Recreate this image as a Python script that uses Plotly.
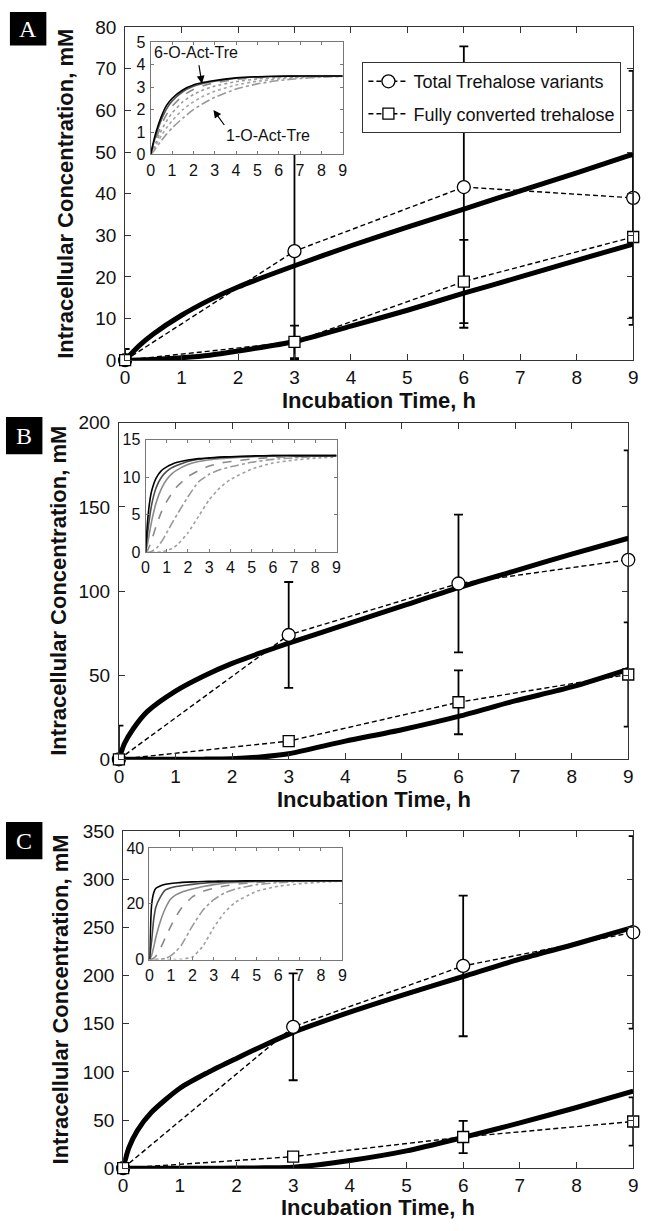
import plotly.graph_objects as go

W, H = 650, 1231

# ---------------- data ----------------
t_data = [0, 3, 6, 9]

# Panel A
A_total = [0, 26.2, 41.6, 39.0]
A_total_err = [2.7, 26.0, 33.8, 30.5]
A_full = [0, 4.4, 18.9, 29.6]
A_full_err = [0, 3.9, 10.0, 19.4]
A_model_t = [0, 0.25, 0.5, 1, 1.5, 2, 3, 4, 5, 6, 7, 8, 9]
A_model_total = [0, 3.5, 6.3, 10.8, 14.5, 17.6, 22.7, 27.5, 32.0, 36.3, 40.7, 45.0, 49.5]
A_model_full = [0, 0.05, 0.2, 0.6, 1.2, 2.2, 4.5, 8.2, 12.0, 16.1, 20.0, 24.0, 27.9]

# Panel B
B_total = [0, 73.9, 104.5, 118.6]
B_total_err = [20, 31.5, 41, 65]
B_full = [0, 10.8, 33.9, 50.4]
B_full_err = [0, 0, 19, 31]
B_model_t = [0, 0.1, 0.25, 0.5, 1, 1.5, 2, 2.5, 3, 4, 5, 6, 7, 8, 9]
B_model_total = [0, 9.5, 18, 28.3, 40.5, 49.5, 57, 63.2, 69, 80, 91, 102, 112, 122, 131.4]
B_model_full = [0, 0, 0, 0, 0, 0.1, 0.4, 1.4, 3.3, 10.8, 17.6, 25.5, 34.7, 43, 53.5]

# Panel C
C_total = [0, 146.8, 210, 244.8]
C_total_err = [0, 55.5, 73, 100]
C_full = [0, 12, 32.4, 48.5]
C_full_err = [0, 0, 16.7, 25]
C_model_t = [0, 0.1, 0.25, 0.5, 1, 1.5, 2, 2.5, 3, 4, 5, 6, 7, 8, 9]
C_model_total = [0, 21, 39, 58, 83, 99.5, 114, 128, 141, 162, 181, 199, 217, 233, 250]
C_model_full = [0, 0, 0, 0, 0, 0, 0.1, 0.4, 1.0, 8, 18, 32, 47, 63, 80]

# Insets (individual positional isomers)
inA_t = [0, 0.1, 0.25, 0.5, 0.75, 1, 1.5, 2, 2.5, 3, 4, 5, 6, 7, 8, 9]
inA_curves = [
    [0, 0.45, 1.0, 1.7, 2.2, 2.5, 2.88, 3.1, 3.22, 3.3, 3.42, 3.47, 3.49, 3.5, 3.5, 3.5],
    [0, 0.38, 0.88, 1.55, 2.05, 2.38, 2.8, 3.04, 3.18, 3.27, 3.4, 3.46, 3.49, 3.5, 3.5, 3.5],
    [0, 0.3, 0.72, 1.32, 1.8, 2.15, 2.62, 2.9, 3.08, 3.2, 3.35, 3.43, 3.47, 3.49, 3.5, 3.5],
    [0, 0.22, 0.55, 1.08, 1.5, 1.85, 2.35, 2.68, 2.9, 3.05, 3.25, 3.37, 3.43, 3.46, 3.48, 3.5],
    [0, 0.15, 0.42, 0.85, 1.2, 1.5, 2.0, 2.35, 2.62, 2.82, 3.1, 3.27, 3.37, 3.43, 3.47, 3.49],
    [0, 0.1, 0.3, 0.62, 0.92, 1.18, 1.62, 2.0, 2.3, 2.55, 2.92, 3.15, 3.3, 3.39, 3.45, 3.48],
]
inBC_t = [0, 0.1, 0.2, 0.3, 0.5, 0.75, 1, 1.25, 1.5, 2, 2.5, 3, 3.5, 4, 5, 6, 7, 8, 9]
inB_curves = [
    [0, 4.2, 6.8, 8.3, 9.9, 10.9, 11.4, 11.75, 12.0, 12.3, 12.5, 12.6, 12.7, 12.75, 12.85, 12.9, 12.9, 12.9, 12.9],
    [0, 2.6, 4.8, 6.5, 8.6, 10.0, 10.8, 11.3, 11.6, 12.1, 12.4, 12.55, 12.65, 12.7, 12.8, 12.9, 12.9, 12.9, 12.9],
    [0, 1.2, 2.8, 4.3, 6.6, 8.5, 9.7, 10.5, 11.0, 11.7, 12.1, 12.35, 12.5, 12.6, 12.75, 12.85, 12.9, 12.9, 12.9],
    [0, 0.3, 0.9, 1.7, 3.5, 5.4, 6.8, 7.9, 8.8, 10.1, 10.9, 11.5, 11.9, 12.1, 12.45, 12.65, 12.75, 12.85, 12.9],
    [0, 0, 0.05, 0.15, 0.5, 1.4, 2.6, 3.9, 5.1, 7.4, 9.4, 10.4, 11.0, 11.4, 12.0, 12.4, 12.6, 12.75, 12.85],
    [0, 0, 0, 0, 0, 0.05, 0.2, 0.5, 1.0, 2.6, 4.8, 7.0, 8.6, 9.7, 11.1, 11.9, 12.3, 12.55, 12.7],
]
inC_curves = [
    [0, 19.5, 24.0, 25.6, 26.4, 27.0, 27.3, 27.5, 27.7, 27.9, 28.0, 28.1, 28.2, 28.2, 28.3, 28.3, 28.3, 28.3, 28.3],
    [0, 6.5, 14.5, 18.8, 22.3, 25.0, 25.8, 26.2, 26.5, 27.0, 27.4, 27.7, 27.9, 28.0, 28.2, 28.3, 28.3, 28.3, 28.3],
    [0, 1.5, 4.5, 8.0, 13.5, 18.5, 21.8, 23.3, 24.2, 25.3, 26.2, 26.9, 27.4, 27.7, 28.0, 28.2, 28.3, 28.3, 28.3],
    [0, 0.1, 0.5, 1.2, 3.8, 8.0, 12.0, 15.6, 18.5, 22.5, 24.5, 25.6, 26.4, 27.0, 27.7, 28.0, 28.2, 28.3, 28.3],
    [0, 0, 0, 0, 0.1, 0.4, 1.4, 3.0, 5.3, 12.0, 17.8, 21.5, 23.9, 25.3, 26.9, 27.6, 28.0, 28.2, 28.3],
    [0, 0, 0, 0, 0, 0, 0, 0, 0.1, 0.9, 4.9, 11.5, 16.9, 20.5, 24.5, 26.3, 27.2, 27.8, 28.1],
]
inset_styles = [
    dict(color="#000000", dash="solid"),
    dict(color="#4a4a4a", dash="solid"),
    dict(color="#8a8a8a", dash="solid"),
    dict(color="#8a8a8a", dash="dash"),
    dict(color="#9a9a9a", dash="dashdot"),
    dict(color="#a0a0a0", dash="dot"),
]
inA_styles = [
    dict(color="#000000", dash="solid"),
    dict(color="#555555", dash="solid"),
    dict(color="#8a8a8a", dash="dash"),
    dict(color="#9a9a9a", dash="dot"),
    dict(color="#a5a5a5", dash="dot"),
    dict(color="#9a9a9a", dash="dashdot"),
]

x_ticks = list(range(0, 10))
A_yticks = list(range(0, 81, 10))
B_yticks = list(range(0, 201, 50))
C_yticks = list(range(0, 351, 50))
inA_yticks = [0, 1, 2, 3, 4, 5]
inB_yticks = [0, 5, 10, 15]
inC_yticks = [0, 20, 40]

legend_names = ["Total Trehalose variants", "Fully converted trehalose"]
x_title = "Incubation Time, h"
y_title = "Intracellular Concentration, mM"

# ---------------- layout helpers ----------------
def px(x):
    return x / W

def py(y):
    return 1 - y / H

FONT = "Liberation Sans, Arial, Helvetica, sans-serif"

panels = [
    dict(mx=(122, 638), my=(17.5, 356.3), ix=(148, 343), iy=(33, 147),
         yt=A_yticks, iyt=inA_yticks, iymax=5, letter="A", box=(5, 42, 2, 36),
         ytx=62, xty=397),
    dict(mx=(115.7, 633), my=(420, 762.3), ix=(142.7, 336.7), iy=(437.3, 551.7),
         yt=B_yticks, iyt=inB_yticks, iymax=15, letter="B", box=(1, 38, 414, 452),
         ytx=53.5, xty=803),
    dict(mx=(120, 638), my=(835.3, 1178.3), ix=(146.7, 342.7), iy=(852.7, 966),
         yt=C_yticks, iyt=inC_yticks, iymax=40, letter="C", box=(1, 38, 826, 864),
         ytx=56.7, xty=1218),
]

fig = go.Figure()
layout = dict(
    width=W, height=H, margin=dict(l=0, r=0, t=0, b=0),
    paper_bgcolor="white", plot_bgcolor="white",
    font=dict(family=FONT, color="#111", size=19),
)
annotations = []
shapes = []

main_sets = [
    (A_model_t, A_model_total, A_model_full, A_total, A_total_err, A_full, A_full_err),
    (B_model_t, B_model_total, B_model_full, B_total, B_total_err, B_full, B_full_err),
    (C_model_t, C_model_total, C_model_full, C_total, C_total_err, C_full, C_full_err),
]
inset_sets = [(inA_t, inA_curves, inA_styles), (inBC_t, inB_curves, inset_styles), (inBC_t, inC_curves, inset_styles)]

for i, p in enumerate(panels):
    n = i + 1
    xa = "x" if n == 1 else f"x{n}"
    ya = "y" if n == 1 else f"y{n}"
    xkey = "xaxis" if n == 1 else f"xaxis{n}"
    ykey = "yaxis" if n == 1 else f"yaxis{n}"
    mt, mtot, mfull, dtot, dtot_e, dfull, dfull_e = main_sets[i]
    ymax = p["yt"][-1]

    layout[xkey] = dict(domain=[px(p["mx"][0]), px(p["mx"][1])], anchor=ya, range=[0, 9],
                        tickvals=x_ticks, ticks="inside", ticklen=6, tickcolor="#333",
                        showline=True, linecolor="#333", linewidth=1, mirror="ticks",
                        showgrid=False, zeroline=False, tickfont=dict(size=19, color="#111"),
                        ticklabelstandoff=0)
    layout[ykey] = dict(domain=[py(p["my"][1]), py(p["my"][0])], anchor=xa, range=[0, ymax],
                        tickvals=p["yt"], ticks="inside", ticklen=6, tickcolor="#333",
                        showline=True, linecolor="#333", linewidth=1, mirror="ticks",
                        showgrid=False, zeroline=False, tickfont=dict(size=19, color="#111"),
                        ticklabelstandoff=4)

    # model curves
    for yy in (mtot, mfull):
        fig.add_trace(go.Scatter(x=mt, y=yy, mode="lines", xaxis=xa, yaxis=ya,
                                 line=dict(color="black", width=5, shape="spline", smoothing=0.7),
                                 showlegend=False, hoverinfo="skip"))
    # data series
    for k, (name, yy, ee, sym, sz) in enumerate(((legend_names[0], dtot, dtot_e, "circle", 13),
                                                 (legend_names[1], dfull, dfull_e, "square", 11))):
        fig.add_trace(go.Scatter(
            x=t_data, y=yy, mode="lines+markers", xaxis=xa, yaxis=ya, name=name,
            legendgroup=f"g{k}",
            line=dict(color="black", width=1.4, dash="5px,3px"),
            marker=dict(symbol=sym, size=sz, color="white",
                        line=dict(color="black", width=1.3)),
            error_y=dict(type="data", array=ee, visible=True, color="black", thickness=1.8, width=4.5),
            showlegend=(i == 0), cliponaxis=False))

    # inset
    m = n + 3
    ixa, iya = f"x{m}", f"y{m}"
    it, icurves, istyles = inset_sets[i]
    layout[f"xaxis{m}"] = dict(domain=[px(p["ix"][0]), px(p["ix"][1])], anchor=iya, range=[0, 9],
                               tickvals=x_ticks, ticks="inside", ticklen=3, tickcolor="#777",
                               showline=True, linecolor="#777", linewidth=1, mirror="ticks",
                               showgrid=False, zeroline=False,
                               tickfont=dict(size=16, color="#111"), ticklabelstandoff=1)
    layout[f"yaxis{m}"] = dict(domain=[py(p["iy"][1]), py(p["iy"][0])], anchor=ixa,
                               range=[0, p["iymax"]], tickvals=p["iyt"], ticks="inside", ticklen=3,
                               tickcolor="#777", showline=True, linecolor="#777", linewidth=1,
                               mirror="ticks", showgrid=False, zeroline=False,
                               tickfont=dict(size=16, color="#111"), ticklabelstandoff=1)
    # white backdrop for the inset (covers the main plot behind it)
    fig.add_trace(go.Scatter(x=[0, 9, 9, 0, 0], y=[0, 0, p["iymax"], p["iymax"], 0],
                             mode="lines", fill="toself", fillcolor="white",
                             line=dict(width=0, color="white"), xaxis=ixa, yaxis=iya,
                             showlegend=False, hoverinfo="skip"))
    for cv, st in zip(reversed(icurves), reversed(istyles)):
        fig.add_trace(go.Scatter(x=it, y=cv, mode="lines", xaxis=ixa, yaxis=iya,
                                 line=dict(color=st["color"], dash=st["dash"], width=1.6,
                                           shape="spline", smoothing=0.5),
                                 showlegend=False, hoverinfo="skip"))

    # axis titles
    annotations.append(dict(text=f"<b>{y_title}</b>", x=px(p["ytx"]), y=py((p["my"][0] + p["my"][1]) / 2),
                            xref="paper", yref="paper", showarrow=False, textangle=-90,
                            xanchor="center", yanchor="middle", font=dict(size=22, family=FONT, color="#111")))
    annotations.append(dict(text=f"<b>{x_title}</b>", x=px((p["mx"][0] + p["mx"][1]) / 2), y=py(p["xty"]),
                            xref="paper", yref="paper", showarrow=False,
                            xanchor="center", yanchor="middle", font=dict(size=22, family=FONT, color="#111")))
    # panel letter box
    bx0, bx1, by0, by1 = p["box"]
    shapes.append(dict(type="rect", xref="paper", yref="paper", x0=px(bx0), x1=px(bx1),
                       y0=py(by1), y1=py(by0), fillcolor="black", line=dict(width=0), layer="above"))
    annotations.append(dict(text=p["letter"], x=px((bx0 + bx1) / 2), y=py((by0 + by1) / 2),
                            xref="paper", yref="paper", showarrow=False, xanchor="center", yanchor="middle",
                            font=dict(size=24, family="Liberation Serif, Times New Roman, serif", color="white")))

# inset A labels and arrows
annotations += [
    dict(text="6-O-Act-Tre", x=2.13, y=4.55, xref="x4", yref="y4", showarrow=False,
         font=dict(size=16, family=FONT, color="#111")),
    dict(text="", x=2.4, y=3.16, ax=2.25, ay=4.05, xref="x4", yref="y4", axref="x4", ayref="y4",
         showarrow=True, arrowhead=2, arrowsize=1.3, arrowwidth=1.2, arrowcolor="black"),
    dict(text="1-O-Act-Tre", x=5.5, y=0.83, xref="x4", yref="y4", showarrow=False,
         font=dict(size=16, family=FONT, color="#111")),
    dict(text="", x=2.94, y=1.99, ax=3.5, ay=1.25, xref="x4", yref="y4", axref="x4", ayref="y4",
         showarrow=True, arrowhead=2, arrowsize=1.3, arrowwidth=1.2, arrowcolor="black"),
]

layout["annotations"] = annotations
layout["shapes"] = shapes
layout["legend"] = dict(x=px(363), y=py(53), xanchor="left", yanchor="top",
                        bgcolor="white", bordercolor="#333", borderwidth=1,
                        font=dict(size=18, family=FONT, color="#111"),
                        traceorder="grouped", tracegroupgap=6, itemwidth=40)
fig.update_layout(**layout)
fig.write_html("out.html", config={"displayModeBar": False},
               post_script="document.body.style.margin='0px';document.body.style.padding='0px';")
